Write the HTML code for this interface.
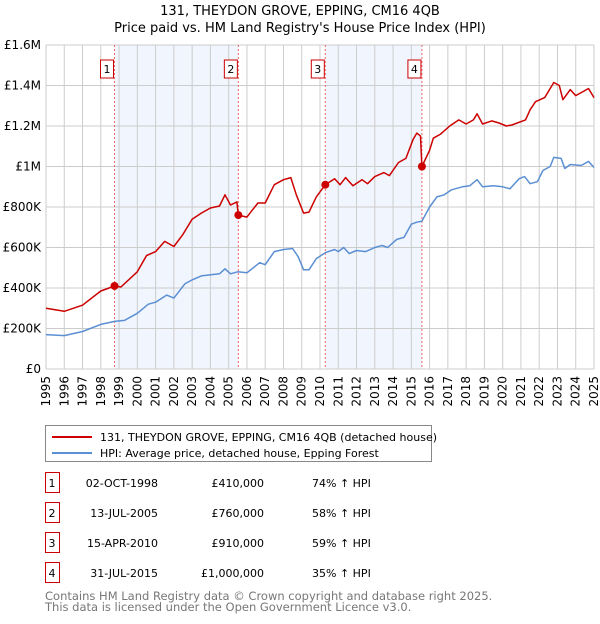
<!DOCTYPE html>
<html><head><meta charset="utf-8"><style>
body{margin:0;background:#fff;font-family:"DejaVu Sans","Liberation Sans",sans-serif;}
svg text{font-family:"DejaVu Sans","Liberation Sans",sans-serif;}
</style></head><body>
<svg id="c" width="600" height="620" xmlns="http://www.w3.org/2000/svg">
<text x="300" y="15" text-anchor="middle" font-size="13">131, THEYDON GROVE, EPPING, CM16 4QB</text>
<text x="300" y="32" text-anchor="middle" font-size="13">Price paid vs. HM Land Registry's House Price Index (HPI)</text>
<g id="plot"></g>
<g>
<rect x="45.5" y="425.5" width="386" height="36" fill="#fff" stroke="#888"/>
<line x1="52" y1="437" x2="92" y2="437" stroke="#cc0000" stroke-width="2"/>
<text x="100" y="441" font-size="11">131, THEYDON GROVE, EPPING, CM16 4QB (detached house)</text>
<line x1="52" y1="453" x2="92" y2="453" stroke="#5b8fd4" stroke-width="2"/>
<text x="100" y="457" font-size="11">HPI: Average price, detached house, Epping Forest</text>
</g>
<g id="table"></g>
<text x="45" y="600" font-size="11.5" fill="#777">Contains HM Land Registry data © Crown copyright and database right 2025.</text>
<text x="45" y="611" font-size="11.5" fill="#777">This data is licensed under the Open Government Licence v3.0.</text>
</svg>
<script>
const redT=[1995,1996,1997,1998,1998.75,1999.1,2000,2000.5,2001,2001.5,2002,2002.5,2003,2003.5,2004,2004.5,2004.8,2005.1,2005.45,2005.53,2006,2006.6,2007,2007.5,2008,2008.4,2008.7,2009.1,2009.4,2009.8,2010.29,2010.8,2011.1,2011.4,2011.8,2012.3,2012.6,2013,2013.5,2013.8,2014.3,2014.7,2015.1,2015.3,2015.5,2015.58,2016,2016.2,2016.6,2017.1,2017.6,2018,2018.4,2018.6,2018.9,2019.4,2019.8,2020.2,2020.5,2021.25,2021.5,2021.8,2022.3,2022.8,2023.1,2023.3,2023.7,2024,2024.4,2024.7,2025];
const redV=[300,285,315,385,410,405,480,560,580,630,605,665,740,770,795,805,860,810,825,760,750,820,820,910,935,945,860,770,775,850,910,940,910,945,905,935,915,950,970,955,1020,1040,1135,1165,1150,1000,1080,1140,1160,1200,1230,1210,1230,1260,1210,1225,1215,1200,1205,1230,1280,1320,1340,1415,1400,1330,1380,1350,1370,1385,1340];
const hpiT=[1995,1996,1997,1998,1998.75,1999.3,2000,2000.6,2001,2001.6,2002,2002.6,2003,2003.5,2004.5,2004.8,2005.1,2005.5,2006,2006.7,2007,2007.5,2008,2008.5,2008.8,2009.1,2009.4,2009.8,2010.3,2010.8,2011,2011.3,2011.6,2012,2012.5,2013,2013.4,2013.7,2014.2,2014.6,2015,2015.3,2015.58,2016,2016.4,2016.8,2017.2,2017.8,2018.2,2018.6,2018.9,2019.5,2020,2020.4,2020.9,2021.2,2021.5,2021.9,2022.2,2022.6,2022.8,2023.2,2023.4,2023.7,2024.3,2024.7,2025];
const hpiV=[170,165,185,220,235,240,275,320,330,365,350,420,440,460,470,495,470,480,475,525,515,580,590,595,555,490,490,545,575,590,580,600,570,585,580,600,610,600,640,650,715,725,730,800,850,860,885,900,905,935,900,905,900,890,940,950,915,925,980,1000,1045,1040,990,1010,1005,1025,995];
const saleT=[1998.75,2005.53,2010.29,2015.58];
const saleV=[410,760,910,1000];
const saleLabels=["1","2","3","4"];
const saleDates=["02-OCT-1998","13-JUL-2005","15-APR-2010","31-JUL-2015"];
const salePrices=["£410,000","£760,000","£910,000","£1,000,000"];
const saleHpi=["74% ↑ HPI","58% ↑ HPI","59% ↑ HPI","35% ↑ HPI"];
const yTicks=[0,200,400,600,800,1000,1200,1400,1600];
const yTickLabels=["£0","£200K","£400K","£600K","£800K","£1M","£1.2M","£1.4M","£1.6M"];
const years=[];for(let y=1995;y<=2025;y++)years.push(y);
const X0=46,X1=594,Y0=369,Y1=45;
const xs=t=>X0+(t-1995)/(2025-1995)*(X1-X0);
const ys=v=>Y0-v/1600*(Y0-Y1);
const NS="http://www.w3.org/2000/svg";
const plot=document.getElementById('plot');
function mk(tag,a,p){const e=document.createElementNS(NS,tag);for(const k in a)e.setAttribute(k,a[k]);(p||plot).appendChild(e);return e;}
// shading
for(let i=0;i<saleT.length;i+=2){const r=mk('rect',{x:xs(saleT[i]),y:Y1,width:xs(saleT[i+1])-xs(saleT[i]),height:Y0-Y1,fill:'#eef3fc',opacity:0.8});

}
// grid
years.forEach(y=>{const l=mk('line',{x1:xs(y),x2:xs(y),y1:Y1,y2:Y0,stroke:'#ccc','stroke-width':1});


const t=mk('text',{x:0,y:0,'font-size':12,'text-anchor':'end',transform:`translate(${xs(y)+4},${Y0+7}) rotate(-90)`});t.textContent=y;

});
yTicks.forEach((v,i)=>{const l=mk('line',{x1:X0,x2:X1,y1:ys(v),y2:ys(v),stroke:'#ccc','stroke-width':1});


const t=mk('text',{x:X0-5,y:ys(v)+4,'font-size':12,'text-anchor':'end'});t.textContent=yTickLabels[i];

});
// sale vlines + label boxes
saleT.forEach((t,i)=>{const l=mk('line',{x1:xs(t),x2:xs(t),y1:Y1,y2:Y0,stroke:'#e66','stroke-width':1,'stroke-dasharray':'2,2'});


const r=mk('rect',{x:xs(t)-14,y:60,width:13,height:18,fill:'#fff',stroke:'#cc0000'});


const tx=mk('text',{x:xs(t)-7.5,y:73,'font-size':11,'text-anchor':'middle'});tx.textContent=saleLabels[i];

});
function line(T,V,c,n){const p=mk('path',{d:T.map((t,i)=>(i?'L':'M')+xs(t).toFixed(1)+','+ys(V[i]).toFixed(1)).join(''),fill:'none',stroke:c,'stroke-width':1.5,'stroke-linejoin':'round'});

}
line(hpiT,hpiV,'#5b8fd4','hpi-line');
line(redT,redV,'#cc0000','price-paid-line');
saleT.forEach((t,i)=>{const c=mk('circle',{cx:xs(t),cy:ys(saleV[i]),r:4,fill:'#cc0000'});

});
// table
const tb=document.getElementById('table');
saleT.forEach((t,i)=>{const y=483+i*30;
const r=mk('rect',{x:45.5,y:y-10.5,width:14,height:20,fill:'#fff',stroke:'#cc0000'},tb);


const cols=[[52,'middle',saleLabels[i]],[158,'end',saleDates[i]],[264,'end',salePrices[i]],[312,'start',saleHpi[i]]];
cols.forEach(([x,a,s],j)=>{const e=mk('text',{x:x,y:y+4,'font-size':11,'text-anchor':a},tb);e.textContent=s;

});});
</script>
</body></html>
